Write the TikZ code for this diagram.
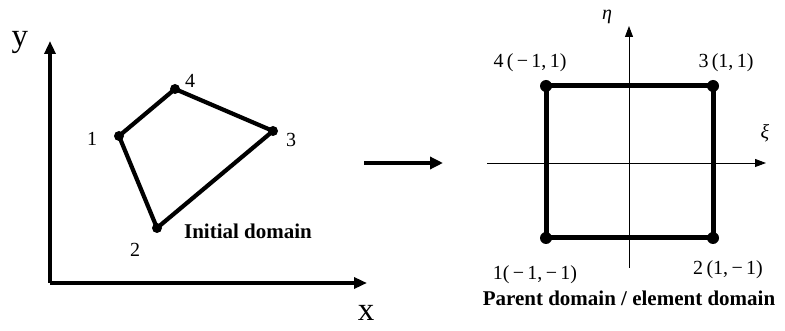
\documentclass[tikz,border=0pt]{standalone}
\usepackage{fontspec}
\setmainfont{Liberation Serif}
\usetikzlibrary{arrows.meta}
\begin{document}
\begin{tikzpicture}[x=1pt,y=-1pt,
  lbl/.style={font=\fontsize{20}{24}\selectfont, inner sep=0pt},
  axlbl/.style={font=\fontsize{33}{38}\selectfont, inner sep=0pt},
  captext/.style={font=\fontsize{21}{25}\selectfont\bfseries, inner sep=0pt},
  thickaxis/.style={line width=3.4pt, -{Triangle[length=13pt,width=11pt]}},
  thinaxis/.style={line width=0.9pt, -{Triangle[length=11pt,width=8pt]}},
  edge/.style={line width=4.2pt, line join=round},
  sqedge/.style={line width=5pt, line join=round},
  dot/.style={circle, fill=black, inner sep=0pt, minimum size=#1}]
\useasboundingbox (0,0) rectangle (785,331);
% left axes
\coordinate (O) at (50,283);
\coordinate (Ytip) at (50,41);
\coordinate (Xtip) at (367,283);
\draw[thickaxis] (O) -- (Ytip);
\draw[thickaxis] (O) -- (Xtip);
\node[axlbl] (ylab) at (20,42) {y};
\node[axlbl] (xlab) at (366,313) {x};
% quadrilateral
\coordinate (p1) at (119,136);
\coordinate (p2) at (157,228);
\coordinate (p3) at (273,131);
\coordinate (p4) at (175,89);
\draw[edge] (p1) -- (p4) -- (p3) -- (p2) -- cycle;
\foreach \p in {p1,p2,p3,p4} \node[dot=10pt] (d\p) at (\p) {};
\node[lbl] (l1) at (92,139) {1};
\node[lbl] (l2) at (135,250) {2};
\node[lbl] (l3) at (291,140) {3};
\node[lbl] (l4) at (190,81) {4};
\node[captext] (init) at (248,231) {Initial domain};
% middle arrow
\coordinate (ma) at (364,163);
\coordinate (mb) at (443,163);
\draw[line width=4pt, -{Triangle[length=13pt,width=12pt]}] (ma) -- (mb);
% right axes
\coordinate (h0) at (487,163);
\coordinate (h1) at (766,163);
\coordinate (v0) at (629,268);
\coordinate (v1) at (629,26);
\draw[thinaxis] (h0) -- (h1);
\draw[thinaxis] (v0) -- (v1);
\node[lbl, font=\fontsize{20}{24}\selectfont\itshape] (eta) at (607,17) {η};
\node[lbl, font=\fontsize{20}{24}\selectfont\itshape] (xi) at (765,133) {ξ};
% square
\coordinate (q1) at (546,238);
\coordinate (q2) at (713,238);
\coordinate (q3) at (713,86);
\coordinate (q4) at (546,86);
\draw[sqedge] (q1) -- (q2) -- (q3) -- (q4) -- cycle;
\foreach \q in {q1,q2,q3,q4} \node[dot=12pt] (d\q) at (\q) {};
\node[lbl] (s4) at (530,63) {4\,(\,−\,1,\,1)};
\node[lbl] (s3) at (726,63) {3\,(1,\,1)};
\node[lbl] (s1) at (535,275) {1(\,−\,1,\,−\,1)};
\node[lbl] (s2) at (728,270) {2\,(1,\,−\,1)};
\node[captext] (parent) at (629,298) {Parent domain / element domain};
\end{tikzpicture}
\end{document}
